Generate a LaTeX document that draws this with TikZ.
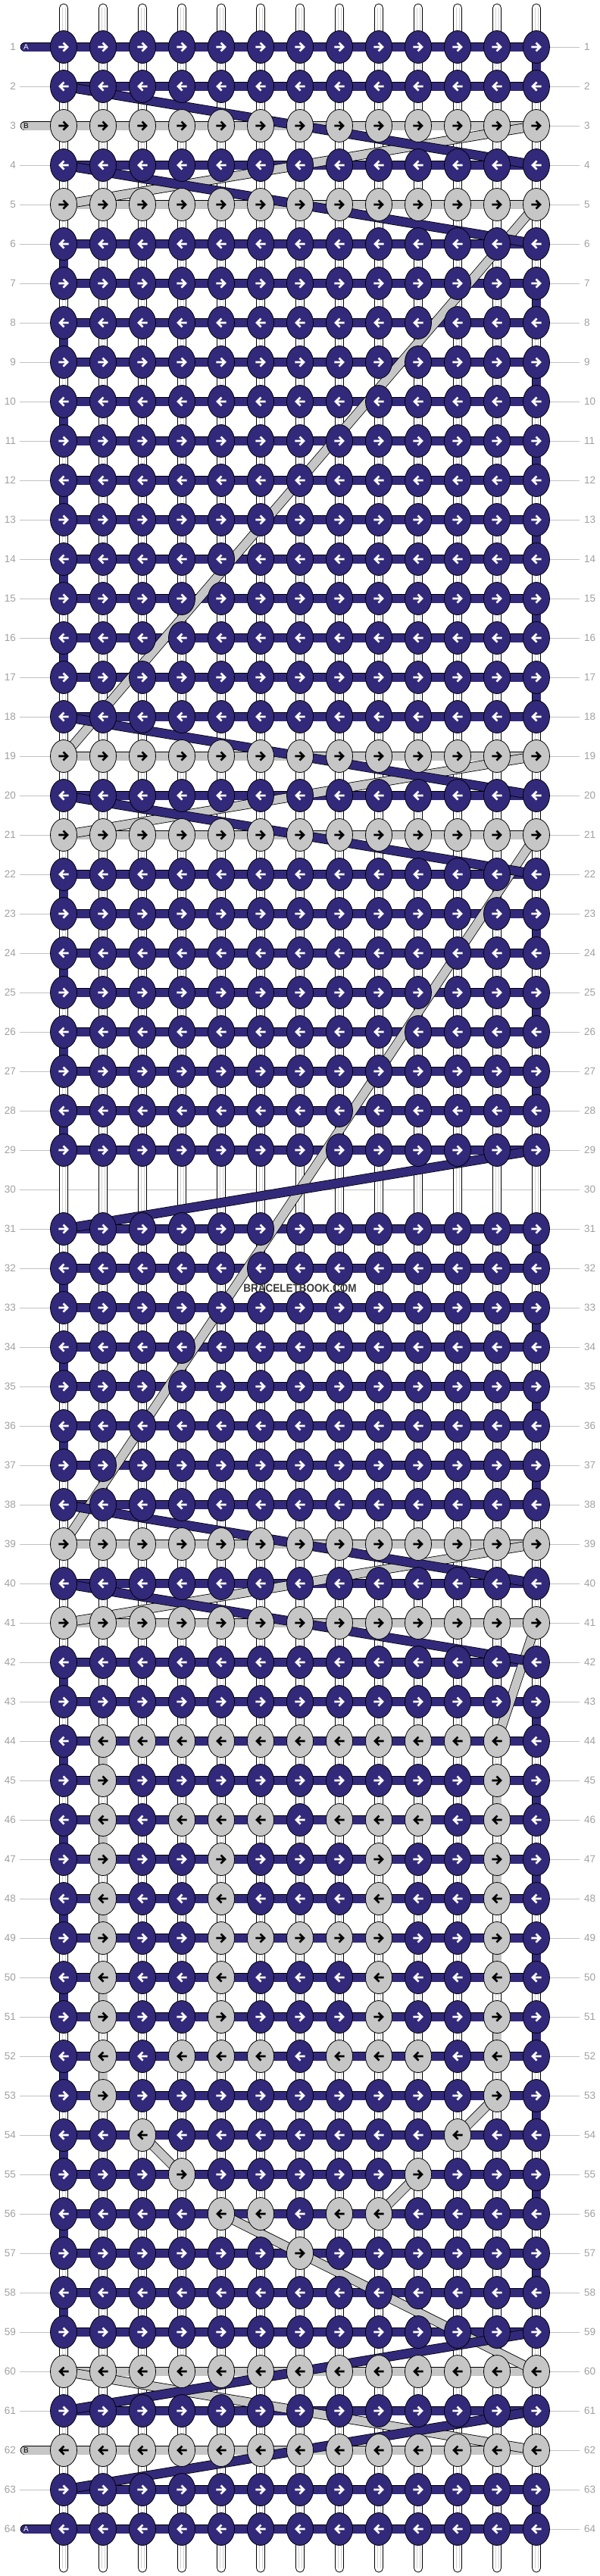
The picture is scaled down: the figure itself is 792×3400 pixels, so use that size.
\documentclass[tikz,border=0pt]{standalone}
\usepackage{fontspec}
\setmainfont{Liberation Sans}
\usepackage{tikz}
\usetikzlibrary{shapes.geometric}
\definecolor{threadA}{HTML}{32297A}
\definecolor{threadB}{HTML}{C6C6C6}
\definecolor{rowtext}{HTML}{A0A0A0}
\definecolor{rowrule}{HTML}{C2C2C2}
\definecolor{warpline}{HTML}{D2D2D2}
\definecolor{stamp}{HTML}{3A3A3A}
\tikzset{
  rowrule/.style={draw=rowrule, line width=1pt},
  warp/.style={draw=black, line width=0.8pt, fill=white, rounded corners=5.5pt},
  warpmid/.style={draw=warpline, line width=0.6pt},
  thread/.style={draw=black, line width=0.8pt, double=#1, double distance=11pt},
  knot/.style={ellipse, draw=black, line width=0.8pt, fill=#1, minimum width=35pt, minimum height=43pt, inner sep=0pt},
  dirarrow/.style={draw=#1, line width=2.6pt},
  rowno/.style={text=rowtext, font=\fontsize{13.5}{14}\selectfont, inner sep=0pt},
  tagtext/.style={font=\fontsize{10}{10}\selectfont, inner sep=0pt}
}
\newcommand{\RowY}[1]{62+52*(#1-1)}

\begin{document}
\begin{tikzpicture}[x=1pt, y=-1pt]
  \useasboundingbox (0,0) rectangle (792,3400);
  % grey knots, row by row
  \foreach \r/\cs in {3/{1,...,13}, 5/{1,...,13}, 19/{1,...,13}, 21/{1,...,13},
      39/{1,...,13}, 41/{1,...,13}, 44/{2,...,12}, 45/{2,12},
      46/{2,4,5,6,8,9,10,12}, 47/{2,5,9,12}, 48/{2,5,9,12}, 49/{2,5,6,7,8,9,12},
      50/{2,5,9,12}, 51/{2,5,9,12}, 52/{2,4,5,6,8,9,10,12}, 53/{2,12},
      54/{3,11}, 55/{4,10}, 56/{5,6,8,9}, 57/{7}, 60/{1,...,13}, 62/{1,...,13}}
    \foreach \c in \cs {\expandafter\gdef\csname gray-\r-\c\endcsname{}}

  \foreach \r in {1,...,64}
    \foreach \c in {1,...,13}
      \coordinate (k-\r-\c) at ({84+52*(\c-1)}, {\RowY{\r}});

  % row rules
  \foreach \r in {1,...,64}
    \draw[rowrule] (26,{\RowY{\r}}) -- (765,{\RowY{\r}});

  % warp strings
  \foreach \c in {1,...,13} {
    \pgfmathsetmacro\xc{84+52*(\c-1)}
    \draw[warp] (\xc-5.5,5) rectangle (\xc+5.5,3395);
    \draw[warpmid] (\xc-2.2,10) -- (\xc-2.2,3390) (\xc+2.2,10) -- (\xc+2.2,3390);
  }

  % rows
  \foreach \r in {1,...,64} {
    \ifnum\r=30 \else
      \ifcsname gray-\r-1\endcsname \def\hue{threadB}\else\def\hue{threadA}\fi
      \draw[thread=\hue] (k-\r-1) -- (k-\r-13);
    \fi
  }

  % loose ends
  \foreach \r/\s/\hue/\ink in {1/A/threadA/white, 3/B/threadB/black, 62/B/threadB/black, 64/A/threadA/white} {
    \coordinate (tag-\r) at (33,{\RowY{\r}});
    \draw[thread=\hue, line cap=round] (tag-\r) -- (k-\r-1);
    \node[tagtext, text=\ink] (tg-\r) at (34.5,{\RowY{\r}}) {\s};
  }

  % turns
  \foreach \a/\b in {1/1, 6/17, 22/28, 31/37, 42/58, 63/63}
    \foreach \r in {\a,...,\b} {
      \ifodd\r \def\cc{13}\else\def\cc{1}\fi
      \pgfmathtruncatemacro\rn{\r+1}
      \draw[thread=threadA] (k-\r-\cc) -- (k-\rn-\cc);
    }
  \foreach \r in {44,...,52} {
    \ifodd\r \def\cc{12}\else\def\cc{2}\fi
    \pgfmathtruncatemacro\rn{\r+1}
    \draw[thread=threadB] (k-\r-\cc) -- (k-\rn-\cc);
  }

  % carried threads
  \foreach \ra/\ca/\rb/\cb in {3/13/5/1, 5/13/19/1, 19/13/21/1, 21/13/39/1, 39/13/41/1,
      41/13/44/12, 53/12/54/11, 54/3/55/4, 55/10/56/9, 56/5/57/7, 57/7/60/13, 60/1/62/13}
    \draw[thread=threadB] (k-\ra-\ca) -- (k-\rb-\cb);
  \foreach \ra/\ca/\rb/\cb in {2/1/4/13, 4/1/6/13, 18/1/20/13, 20/1/22/13, 29/13/31/1,
      38/1/40/13, 40/1/42/13, 59/13/61/1, 61/13/63/1}
    \draw[thread=threadA] (k-\ra-\ca) -- (k-\rb-\cb);

  % knots
  \foreach \r in {1,...,64} {
    \ifnum\r=30 \else
      \ifodd\r \def\dir{1}\else\def\dir{-1}\fi
      \foreach \c in {1,...,13} {
        \ifcsname gray-\r-\c\endcsname \def\hue{threadB}\def\ink{black}\else\def\hue{threadA}\def\ink{white}\fi
        \node[knot=\hue] (n-\r-\c) at (k-\r-\c) {};
        \draw[dirarrow=\ink, shift={(n-\r-\c.center)}, xscale=\dir]
          (-6.7,0) -- (5,0) (-0.5,-5.5) -- (5,0) -- (-0.5,5.5);
      }
    \fi
  }

  % row numbers
  \foreach \r in {1,...,64} {
    \node[rowno, anchor=east] (ln-\r) at (21,{\RowY{\r}}) {\r};
    \node[rowno, anchor=west] (rn-\r) at (771,{\RowY{\r}}) {\r};
  }

  \node[text=stamp, font=\bfseries\fontsize{15}{15}\selectfont, inner sep=0pt] (stamp) at (396,1700)
    {\scalebox{0.9}[1]{BRACELETBOOK.COM}};
\end{tikzpicture}
\end{document}
